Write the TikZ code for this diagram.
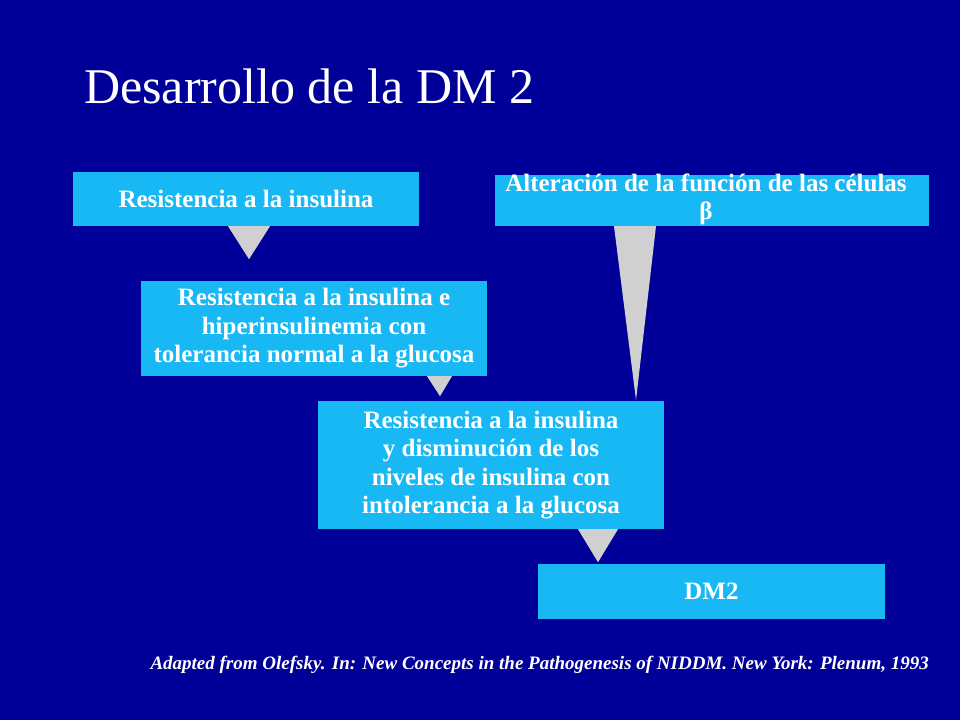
\documentclass[tikz,border=0pt]{standalone}
\usepackage{fontspec}
\setmainfont{Liberation Serif}
\definecolor{bg}{RGB}{0,0,153}
\definecolor{boxc}{RGB}{24,184,245}
\definecolor{tri}{RGB}{208,208,208}
\begin{document}
\begin{tikzpicture}[x=1pt,y=-1pt,
  bx/.style={fill=boxc,inner sep=0pt,text=white,font=\fontsize{25}{28.5}\selectfont\bfseries,align=center},
  tr/.style={fill=tri}]
\fill[bg] (0,0) rectangle (960,720);
\useasboundingbox (0,0) rectangle (960,720);
\node[anchor=base west,text=white,font=\fontsize{50}{54}\selectfont,inner sep=0pt] (title) at (84,103) {Desarrollo de la DM 2};
\node[bx,minimum width=346pt,minimum height=54pt] (a) at (246,199) {Resistencia a la insulina};
\node[bx,minimum width=434pt,minimum height=51pt] (b) at (712,200.5) {};
\node[text=white,font=\fontsize{25}{28}\selectfont\bfseries,align=center,anchor=north,inner sep=0pt] (bt) at (706,174) {Alteración de la función de las células\\β};
\node[bx,minimum width=346pt,minimum height=95pt] (c) at (314,328.5) {Resistencia a la insulina e\\hiperinsulinemia con\\tolerancia normal a la glucosa};
\node[bx,minimum width=346pt,minimum height=128pt] (d) at (491,465) {Resistencia a la insulina\\y disminución de los\\niveles de insulina con\\intolerancia a la glucosa};
\node[bx,minimum width=347pt,minimum height=55pt] (e) at (711.5,591.5) {DM2};
\fill[tr] ([xshift=-18pt]a.south) -- ([xshift=24pt]a.south) -- ([xshift=3pt,yshift=-33pt]a.south) -- cycle;
\fill[tr] ([xshift=113pt]c.south) -- ([xshift=138pt]c.south) -- ([xshift=126pt,yshift=-20pt]c.south) -- cycle;
\fill[tr] ([xshift=87pt]d.south) -- ([xshift=127pt]d.south) -- ([xshift=107pt,yshift=-33pt]d.south) -- cycle;
\fill[tr] ([xshift=-98pt]b.south) -- ([xshift=-56pt]b.south) -- ([xshift=-76pt,yshift=-174pt]b.south) -- cycle;
\node[anchor=base east,text=white,font=\fontsize{19}{22}\selectfont\bfseries\itshape,inner sep=0pt] (src) at (929,669) {Adapted from Olefsky. In: New Concepts in the Pathogenesis of NIDDM. New York: Plenum, 1993};
\end{tikzpicture}
\end{document}
